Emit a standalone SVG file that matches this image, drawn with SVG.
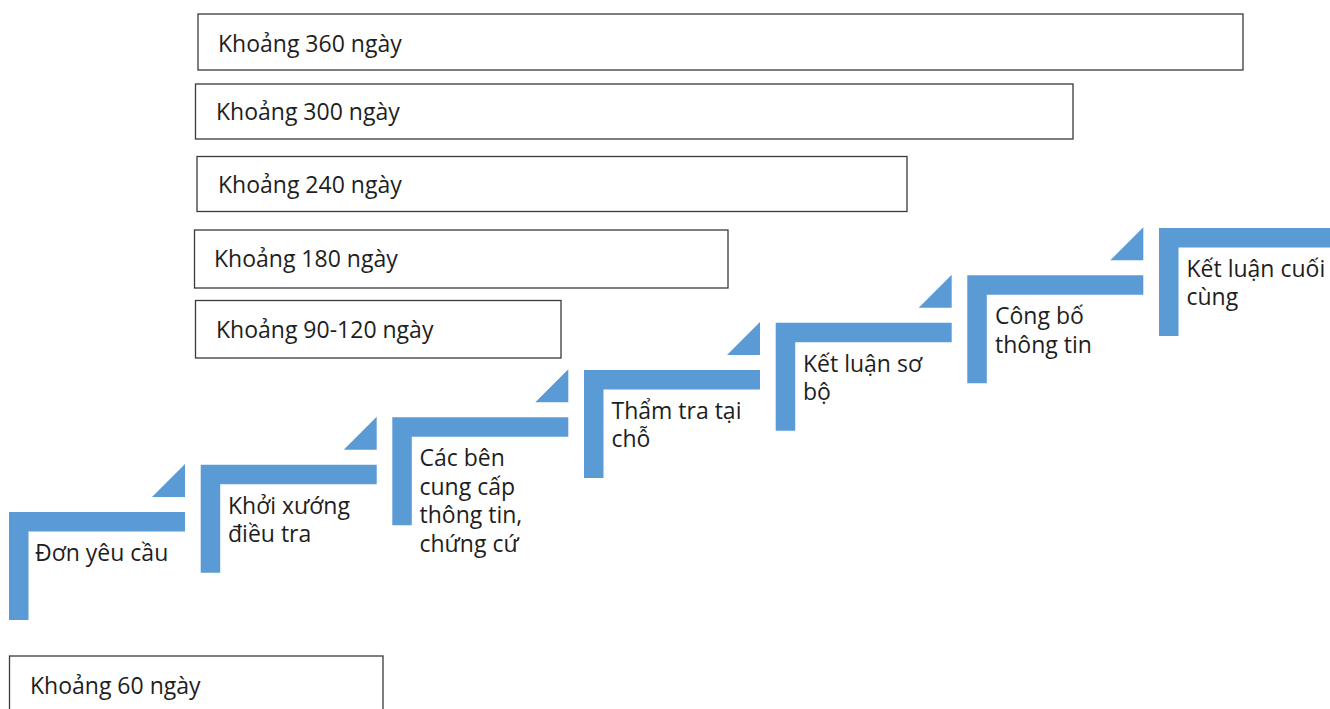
<svg xmlns="http://www.w3.org/2000/svg" width="1330" height="709" viewBox="0 0 1330 709">
  <style>
    .bg { fill: #ffffff; }
    .step { fill: #5B9BD5; }
    .tri { fill: #5B9BD5; }
    .box { fill: #ffffff; stroke: #3a3a3a; stroke-width: 1.3; }
    .lbl { font-family: "Open Sans", "Noto Sans", "DejaVu Sans", sans-serif; font-size: 23px; fill: #1e1e1e; }
  </style>
  <rect class="bg" x="0" y="0" width="1330" height="709"/>

  <!-- time-span boxes -->
  <g id="span-360">
    <rect class="box" x="198" y="14" width="1045" height="56"/>
    <text class="lbl" x="218" y="51.5">Khoảng 360 ngày</text>
  </g>
  <g id="span-300">
    <rect class="box" x="195.5" y="84" width="877.5" height="55"/>
    <text class="lbl" x="216" y="119.5">Khoảng 300 ngày</text>
  </g>
  <g id="span-240">
    <rect class="box" x="197" y="156.5" width="710" height="55"/>
    <text class="lbl" x="218" y="192.5">Khoảng 240 ngày</text>
  </g>
  <g id="span-180">
    <rect class="box" x="194.5" y="230" width="533.5" height="58"/>
    <text class="lbl" x="214" y="266.5">Khoảng 180 ngày</text>
  </g>
  <g id="span-90-120">
    <rect class="box" x="195.5" y="300.5" width="365.5" height="57.5"/>
    <text class="lbl" x="216" y="337.5">Khoảng 90-120 ngày</text>
  </g>
  <g id="span-60">
    <rect class="box" x="9.5" y="656" width="373.5" height="60"/>
    <text class="lbl" x="30" y="693.5">Khoảng 60 ngày</text>
  </g>

  <!-- step connectors (corner triangles between stairs) -->
  <g id="connectors">
    <polygon class="tri" points="152,497 185,497 185,464"/>
    <polygon class="tri" points="343.7,449.7 376.7,449.7 376.7,416.7"/>
    <polygon class="tri" points="535.3,402.3 568.3,402.3 568.3,369.3"/>
    <polygon class="tri" points="727,355 760,355 760,322"/>
    <polygon class="tri" points="918.7,307.7 951.7,307.7 951.7,274.7"/>
    <polygon class="tri" points="1110.3,260.3 1143.3,260.3 1143.3,227.3"/>
  </g>

  <!-- stair steps -->
  <g id="step-1">
    <path class="step" d="M9,512 H185 V531.5 H28.5 V620 H9 Z"/>
    <text class="lbl" x="35" y="561">Đơn yêu cầu</text>
  </g>
  <g id="step-2">
    <path class="step" d="M200.7,464.7 H376.7 V484.2 H220.2 V572.7 H200.7 Z"/>
    <text class="lbl" x="228" y="513.5">Khởi xướng</text>
    <text class="lbl" x="228" y="542">điều tra</text>
  </g>
  <g id="step-3">
    <path class="step" d="M392.3,417.3 H568.3 V436.8 H411.8 V525.3 H392.3 Z"/>
    <text class="lbl" x="419.5" y="466">Các bên</text>
    <text class="lbl" x="419.5" y="494.5">cung cấp</text>
    <text class="lbl" x="419.5" y="523">thông tin,</text>
    <text class="lbl" x="419.5" y="551.5">chứng cứ</text>
  </g>
  <g id="step-4">
    <path class="step" d="M584,370 H760 V389.5 H603.5 V478 H584 Z"/>
    <text class="lbl" x="611.5" y="418.5">Thẩm tra tại</text>
    <text class="lbl" x="611.5" y="447">chỗ</text>
  </g>
  <g id="step-5">
    <path class="step" d="M775.7,322.7 H951.7 V342.2 H795.2 V430.7 H775.7 Z"/>
    <text class="lbl" x="803" y="371.5">Kết luận sơ</text>
    <text class="lbl" x="803" y="400">bộ</text>
  </g>
  <g id="step-6">
    <path class="step" d="M967.3,275.3 H1143.3 V294.8 H986.8 V383.3 H967.3 Z"/>
    <text class="lbl" x="995" y="324">Công bố</text>
    <text class="lbl" x="995" y="352.5">thông tin</text>
  </g>
  <g id="step-7">
    <path class="step" d="M1159,228 H1335 V247.5 H1178.5 V336 H1159 Z"/>
    <text class="lbl" x="1186.5" y="276.5">Kết luận cuối</text>
    <text class="lbl" x="1186.5" y="305">cùng</text>
  </g>
</svg>
